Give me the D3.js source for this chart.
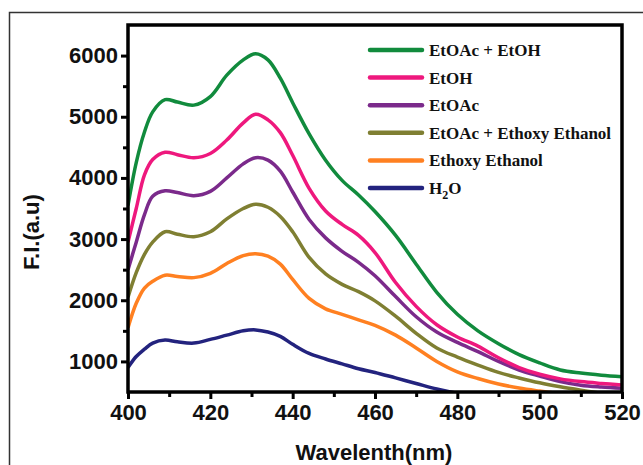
<!DOCTYPE html>
<html>
<head>
<meta charset="utf-8">
<script src="https://cdnjs.cloudflare.com/ajax/libs/d3/7.8.5/d3.min.js"></script>
<style>
  body { margin: 0; background: #fff; }
  svg { display: block; }
</style>
</head>
<body>
<svg width="643" height="465"></svg>
<script>
let svg = d3.select('svg'),
    width = +svg.attr('width'),
    height = +svg.attr('height');

// wavelength grid (nm)
let wavelengths = [400, 402, 404, 406, 409, 412, 416, 420, 424, 428, 431, 434, 437, 440, 444, 448,
                   452, 456, 460, 465, 470, 475, 480, 485, 490, 495, 500, 505, 510, 515, 520];

let seriesNames = ['EtOAc + EtOH', 'EtOH', 'EtOAc', 'EtOAc + Ethoxy Ethanol', 'Ethoxy Ethanol', 'H2O'];
let seriesColors = ['#118b3d', '#ee187d', '#7b2a8b', '#7f7f32', '#ff8021', '#23237e'];

let etoacEtoh = [3550, 4250, 4750, 5080, 5280, 5240, 5190, 5330, 5680, 5930, 6030, 5930, 5630, 5230, 4720, 4290,
                 3960, 3720, 3450, 3060, 2590, 2130, 1770, 1500, 1290, 1110, 975, 860, 810, 775, 750];
let etoh = [2950, 3500, 4050, 4300, 4420, 4380, 4330, 4400, 4620, 4900, 5040, 4950, 4740, 4370, 3830, 3460,
            3240, 3060, 2780, 2290, 1900, 1600, 1400, 1250, 1060, 900, 790, 715, 670, 640, 615];
let etoac = [2500, 2950, 3400, 3700, 3790, 3760, 3710, 3780, 4000, 4230, 4330, 4290, 4110, 3770, 3320, 3020,
             2800, 2620, 2400, 2060, 1730, 1480, 1310, 1160, 1000, 860, 760, 670, 610, 580, 560];
let etoacEthoxy = [2050, 2450, 2750, 2950, 3120, 3080, 3040, 3120, 3330, 3500, 3570, 3520, 3370, 3120, 2700, 2430,
                   2260, 2140, 1990, 1740, 1460, 1220, 1070, 940, 820, 730, 650, 585, 530, 480, 440];
let ethoxy = [1550, 1950, 2200, 2310, 2410, 2390, 2370, 2440, 2600, 2730, 2760, 2720, 2590, 2340, 2030, 1860,
              1770, 1680, 1590, 1430, 1220, 1000, 830, 720, 630, 565, 515, 470, 440, 420, 400];
let water = [900, 1080, 1200, 1300, 1350, 1320, 1300, 1360, 1430, 1500, 1515, 1480, 1410, 1280, 1130, 1040,
             960, 880, 820, 730, 640, 550, 480, 430, 400, 380, 360, 350, 340, 330, 320];

let allSeries = [etoacEtoh, etoh, etoac, etoacEthoxy, ethoxy, water];

let xMajor = [400, 420, 440, 460, 480, 500, 520];
let xMinor = [410, 430, 450, 470, 490, 510];
let yMajor = [1000, 2000, 3000, 4000, 5000, 6000];
let yMinor = [1500, 2500, 3500, 4500, 5500];

let plotLeft = 128, plotRight = 622, plotTop = 25, plotBottom = 392;

let x = d3.scaleLinear().domain([400, 520]).range([plotLeft, plotRight]);
let y = d3.scaleLinear().domain([500, 6500]).range([plotBottom, plotTop]);

// outer frame (left and top edges)
svg.append('path')
   .attr('d', 'M9.5,' + height + 'V12.5H' + width)
   .attr('fill', 'none')
   .attr('stroke', '#333')
   .attr('stroke-width', 1.5);

svg.append('clipPath').attr('id', 'plot-clip')
   .append('rect')
   .attr('x', plotLeft).attr('y', plotTop)
   .attr('width', plotRight - plotLeft).attr('height', plotBottom - plotTop);

let line = d3.line()
    .x(function(d, i) { return x(wavelengths[i]); })
    .y(function(d) { return y(d); })
    .curve(d3.curveCatmullRom.alpha(0.5));

let g = svg.append('g').attr('clip-path', 'url(#plot-clip)');
g.selectAll('.curve')
  .data(allSeries.slice().reverse())
  .enter().append('path')
  .attr('class', 'curve')
  .attr('d', line)
  .attr('fill', 'none')
  .attr('stroke', function(d, i) { return seriesColors[allSeries.length - 1 - i]; })
  .attr('stroke-width', 3.5)
  .attr('stroke-linejoin', 'round');

// axes
let xAxis = d3.axisBottom(x).tickValues(xMajor).tickSize(7).tickPadding(5).tickFormat(d3.format('d'));
let xAxisMinor = d3.axisBottom(x).tickValues(xMinor).tickSize(5).tickFormat('');
let yAxis = d3.axisLeft(y).tickValues(yMajor).tickSize(7).tickPadding(3).tickFormat(d3.format('d'));
let yAxisMinor = d3.axisLeft(y).tickValues(yMinor).tickSize(5).tickFormat('');

function styleAxis(sel) {
  sel.select('.domain').remove();
  sel.selectAll('line').attr('stroke', '#000').attr('stroke-width', 3);
  sel.selectAll('text')
     .attr('fill', '#111')
     .style('font-family', '"Liberation Sans", Arial, sans-serif')
     .style('font-weight', 'bold')
     .style('font-size', '22px');
}

svg.append('g').attr('transform', 'translate(0,' + plotBottom + ')').call(xAxis).call(styleAxis);
svg.append('g').attr('transform', 'translate(0,' + plotBottom + ')').call(xAxisMinor).call(styleAxis);
svg.append('g').attr('transform', 'translate(' + plotLeft + ',0)').call(yAxis).call(styleAxis);
svg.append('g').attr('transform', 'translate(' + plotLeft + ',0)').call(yAxisMinor).call(styleAxis);

// plot frame
svg.append('rect')
   .attr('x', plotLeft).attr('y', plotTop)
   .attr('width', plotRight - plotLeft).attr('height', plotBottom - plotTop)
   .attr('fill', 'none')
   .attr('stroke', '#000')
   .attr('stroke-width', 3.5);

// axis titles
svg.append('text')
   .attr('x', 374).attr('y', 460)
   .attr('text-anchor', 'middle')
   .attr('fill', '#111')
   .style('font-family', '"Liberation Sans", Arial, sans-serif')
   .style('font-weight', 'bold')
   .style('font-size', '22px')
   .text('Wavelenth(nm)');

svg.append('text')
   .attr('transform', 'translate(39,232) rotate(-90)')
   .attr('text-anchor', 'middle')
   .attr('fill', '#111')
   .style('font-family', '"Liberation Sans", Arial, sans-serif')
   .style('font-weight', 'bold')
   .style('font-size', '22px')
   .text('F.I.(a.u)');

// legend
let legend = svg.append('g').attr('transform', 'translate(370,50)');
let item = legend.selectAll('.item')
  .data(seriesNames)
  .enter().append('g')
  .attr('class', 'item')
  .attr('transform', function(d, i) { return 'translate(0,' + (i * 27.6) + ')'; });

item.append('line')
    .attr('x1', 0).attr('x2', 52)
    .attr('stroke', function(d, i) { return seriesColors[i]; })
    .attr('stroke-width', 4.5)
    .attr('stroke-linecap', 'round');

let label = item.append('text')
    .attr('x', 59).attr('y', 6)
    .attr('fill', '#111')
    .style('font-family', '"Liberation Serif", "Times New Roman", serif')
    .style('font-weight', 'bold')
    .style('font-size', '17px');

label.each(function(d) {
  let t = d3.select(this);
  if (d === 'H2O') {
    t.append('tspan').text('H');
    t.append('tspan').attr('dy', 5).style('font-size', '12px').text('2');
    t.append('tspan').attr('dy', -5).text('O');
  } else {
    t.text(d);
  }
});
</script>
</body>
</html>
